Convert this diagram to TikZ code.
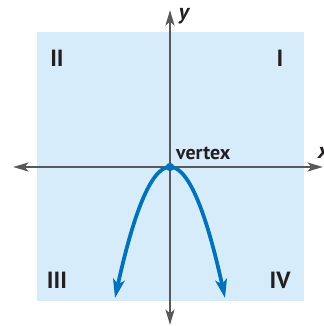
\documentclass[tikz,border=0pt]{standalone}
\usepackage{fontspec}
\setmainfont{PT Sans}
\usepackage{tikz}
\usetikzlibrary{arrows.meta,positioning}
\usepackage{xcolor}
\definecolor{planeblue}{HTML}{D6ECFA}
\definecolor{curveblue}{HTML}{0072BC}
\definecolor{axisgray}{HTML}{58595B}
\definecolor{labelink}{HTML}{231F20}
\tikzset{
  plane/.style={
    fill=planeblue,
    draw=none
  },
  axis/.style={
    Stealth-Stealth,
    line width=2.4pt,
    draw=axisgray,
    arrows={[length=13pt,width=7.5pt,inset=3pt]}
  },
  curve/.style={
    Stealth-Stealth,
    line width=3.2pt,
    draw=curveblue,
    arrows={[length=16pt,width=10pt,inset=4pt]}
  },
  quadlabel/.style={
    font=\fontsize{20}{20}\selectfont\bfseries,
    text=labelink,
    inner sep=0pt
  },
  axislabel/.style={
    font=\fontsize{19}{19}\selectfont\bfseries\itshape,
    text=labelink,
    inner sep=0pt
  },
  vertexlabel/.style={
    font=\fontsize{17}{17}\selectfont\bfseries,
    text=labelink,
    inner sep=0pt
  }
}

\begin{document}
\begin{tikzpicture}[x=0.3mm,y=-0.3mm]
\useasboundingbox (0,0) rectangle (323,326);
\fill[plane] (37,32) rectangle (304,301);

% axes
\coordinate (left) at (13,167);
\coordinate (right) at (323,167);
\coordinate (top) at (170,10);
\coordinate (bottom) at (170,325);
\coordinate (vertex) at (170,167);
\draw[axis] (left) -- (right);
\draw[axis] (bottom) -- (top);
\node[axislabel, anchor=west] (xlab) at (318,153) {x};
\node[axislabel] (ylab) at (184,16) {y};

% parabola
\draw[curve] plot[domain=-55:55, samples=80] ({170+\x},{167+0.0433*\x*\x});
\fill[curveblue] (vertex) circle (4.2);
\node[vertexlabel, anchor=base west] (vlab) at (176,159) {vertex};

% quadrants
\node[quadlabel] (q1) at (280,58) {I};
\node[quadlabel] (q2) at (57,58) {II};
\node[quadlabel] (q3) at (57,280) {III};
\node[quadlabel] (q4) at (280,280) {IV};
\end{tikzpicture}
\end{document}
